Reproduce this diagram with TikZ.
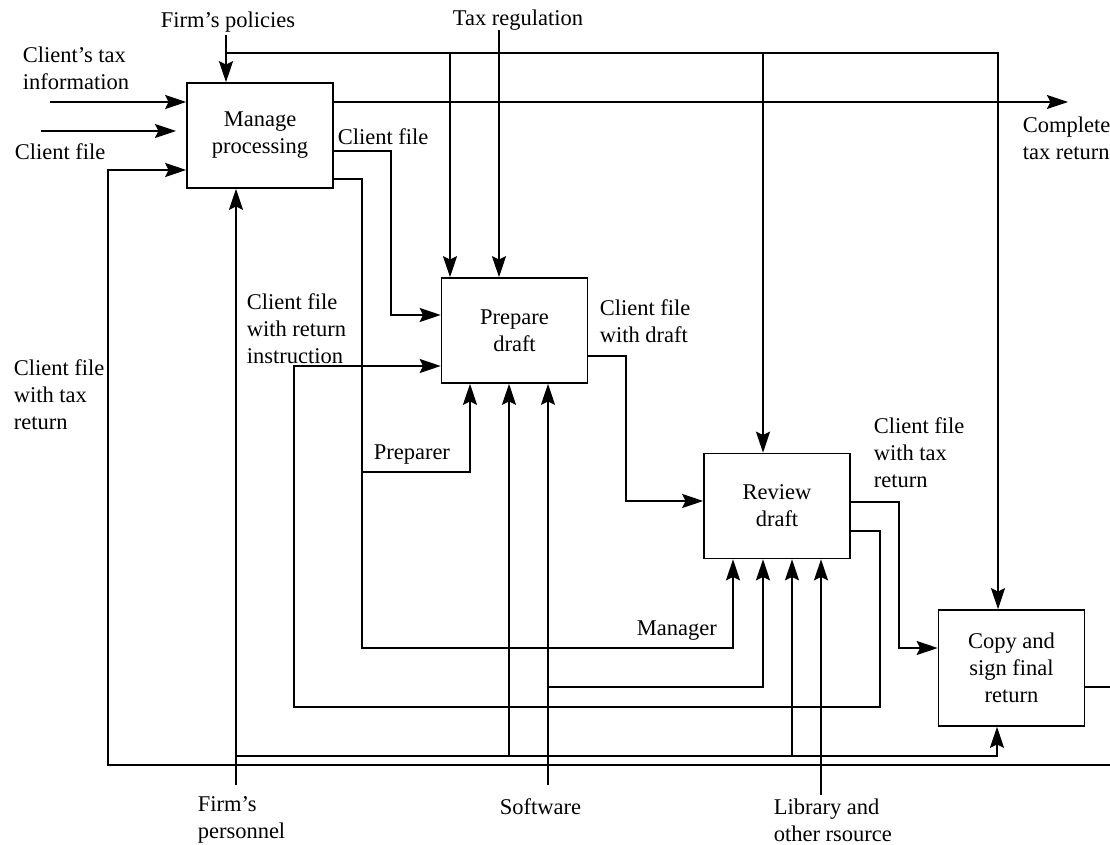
\documentclass[tikz,border=0pt]{standalone}
\usepackage{fontspec}
\setmainfont{Liberation Serif}
\usetikzlibrary{arrows.meta}

\tikzset{
  proc/.style={draw, minimum width=3.65cm, minimum height=2.625cm, align=center, inner sep=2pt},
  lbl/.style={align=left, inner sep=0pt, anchor=west},
  flow/.style={-{Stealth[length=15pt, width=10pt, inset=2.5pt]}},
}

\begin{document}
\begin{tikzpicture}[x=0.025cm, y=-0.025cm, line width=1.1pt, font=\fontsize{16}{19.2}\selectfont]
  \useasboundingbox (0,0) rectangle (1110,845);

  % activity boxes
  \node[proc] (manage)  at (260,135.5) {Manage\\processing};
  \node[proc] (prepare) at (514.5,330.5) {Prepare\\draft};
  \node[proc] (review)  at (777,506) {Review\\draft};
  \node[proc, minimum height=2.9cm] (copy) at (1011.5,668) {Copy and\\sign final\\return};

  % free ends
  \coordinate (pol) at (226,35);
  \coordinate (tax) at (499,30);
  \coordinate (in1) at (50,102);
  \coordinate (in2) at (41,131);
  \coordinate (in2e) at (176,131);
  \coordinate (out) at (1068,102);
  \coordinate (per) at (236,785);
  \coordinate (sw) at (548,785);
  \coordinate (lib) at (821,795);
  \coordinate (cpo) at (1110,687);
  \coordinate (loop) at (1110,765);

  % labels
  \node (policies) at (228,22) {Firm's policies};
  \node (taxreg) at (518,20) {Tax regulation};
  \node[lbl] (taxinfo) at (22,68.5) {Client's tax\\information};
  \node[lbl] (cfin) at (14,152) {Client file};
  \node[lbl] (cfmng) at (337,137) {Client file};
  \node[lbl] (cfinstr) at (246,328.5) {Client file\\with return\\instruction};
  \node[lbl] (cftaxl) at (13,394.5) {Client file\\with tax\\return};
  \node[lbl] (preparer) at (373,455) {Preparer};
  \node[lbl] (cfdraft) at (599,321.5) {Client file\\with draft};
  \node[lbl] (cftaxr) at (873,452.5) {Client file\\with tax\\return};
  \node[lbl] (manager) at (636,631) {Manager};
  \node[lbl] (personnel) at (197,820) {Firm's\\personnel};
  \node[lbl] (software) at (499,807) {Software};
  \node[lbl] (library) at (773,820) {Library and\\other rsource};
  \node[lbl] (complete) at (1022,138) {Complete\\tax return};

  % controls from the top
  \draw[flow] (pol) -- (manage.north -| pol);
  \draw[flow] (pol |- 0,53) -| (copy.north -| 998,0);
  \draw[flow] (450,53) -- (prepare.north -| 450,0);
  \draw[flow] (763,53) -- (review.north -| 763,0);
  \draw[flow] (tax) -- (prepare.north -| tax);

  % inputs and output of the whole
  \draw[flow] (in1) -- (manage.west |- in1);
  \draw[flow] (in2) -- (in2e);
  \draw[flow] (manage.east |- out) -- (out);

  % flows between activities
  \draw[flow] (manage.east |- 0,151) -| (391,315) -- (prepare.west |- 0,315);
  \draw[flow] (manage.east |- 0,179) -| (362,648) -| (review.south -| 733,0);
  \draw[flow] (362,472) -| (prepare.south -| 470,0);
  \draw[flow] (prepare.east |- 0,356) -| (626,501) -- (review.west |- 0,501);
  \draw[flow] (review.east |- 0,502) -| (899,648) -- (copy.west |- 0,648);
  \draw[flow] (review.east |- 0,531) -| (880,707) -| (294,366) -- (prepare.west |- 0,366);
  \draw (copy.east |- cpo) -- (cpo);
  \draw[flow] (loop) -| (108,170) -- (manage.west |- 0,170);

  % mechanisms from below
  \draw[flow] (per) -- (manage.south -| per);
  \draw[flow] (per |- 0,756) -| (copy.south -| 997,0);
  \draw[flow] (509,756) -- (prepare.south -| 509,0);
  \draw[flow] (792,756) -- (review.south -| 792,0);
  \draw[flow] (sw) -- (prepare.south -| sw);
  \draw[flow] (sw |- 0,687) -| (review.south -| 763,0);
  \draw[flow] (lib) -- (review.south -| lib);
\end{tikzpicture}
\end{document}
